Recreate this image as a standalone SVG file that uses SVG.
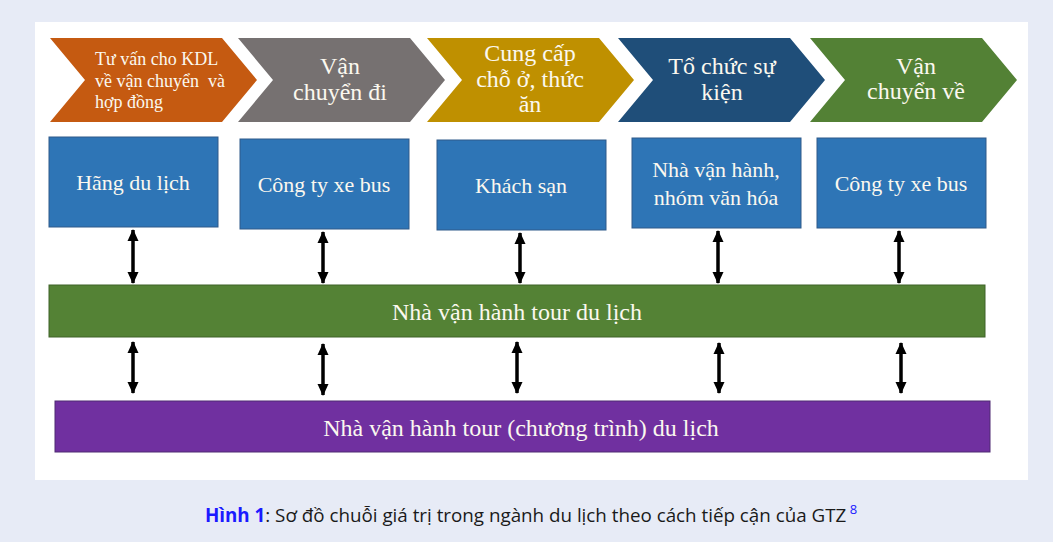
<svg xmlns="http://www.w3.org/2000/svg" width="1053" height="542" viewBox="0 0 1053 542">
<style>
.chev text, .box text, .bar text { font-family: "Liberation Serif", "Times New Roman", serif; fill: #fbf8ef; }
.ct { font-size: 24px; text-anchor: middle; }
.box rect { fill: #2e75b6; stroke: #2f5a8a; stroke-width: 1; }
.bt { font-size: 22px; text-anchor: middle; }
.arrow { stroke: #000; stroke-width: 3.5; fill: none; marker-start: url(#ah); marker-end: url(#ah); }
.cap { font-family: "Open Sans", "Noto Sans", sans-serif; font-size: 18.8px; fill: #1a1a1a; }
</style>
<defs>
<marker id="ah" markerUnits="userSpaceOnUse" markerWidth="12" markerHeight="12" refX="11" refY="6" viewBox="0 0 12 12" orient="auto-start-reverse">
<path d="M0,0.5 L12,6 L0,11.5 z" fill="#000"/>
</marker>
</defs>
<rect x="0" y="0" width="1053" height="542" fill="#e7ebf6"/>
<rect x="35" y="22" width="993" height="458" fill="#ffffff"/>

<g id="step1" class="chev">
<path d="M50,38 L222,38 L257,80 L222,122 L50,122 L85,80 Z" fill="#c55a11"/>
<text x="95" y="65" font-size="18">Tư vấn cho KDL</text>
<text x="95" y="87" font-size="18" xml:space="preserve">về vận chuyển  và</text>
<text x="95" y="108" font-size="18">hợp đồng</text>
</g>
<g id="step2" class="chev">
<path d="M238,38 L410,38 L445,80 L410,122 L238,122 L273,80 Z" fill="#767171"/>
<text class="ct" x="340" y="74">Vận</text>
<text class="ct" x="340" y="100">chuyển đi</text>
</g>
<g id="step3" class="chev">
<path d="M427,38 L599,38 L634,80 L599,122 L427,122 L462,80 Z" fill="#bf9000"/>
<text class="ct" x="530" y="61">Cung cấp</text>
<text class="ct" x="530" y="87">chỗ ở, thức</text>
<text class="ct" x="530" y="112">ăn</text>
</g>
<g id="step4" class="chev">
<path d="M618,38 L790,38 L825,80 L790,122 L618,122 L653,80 Z" fill="#1f4e79"/>
<text class="ct" x="722" y="74">Tổ chức sự</text>
<text class="ct" x="722" y="100">kiện</text>
</g>
<g id="step5" class="chev">
<path d="M810,38 L982,38 L1017,80 L982,122 L810,122 L845,80 Z" fill="#538135"/>
<text class="ct" x="916" y="74">Vận</text>
<text class="ct" x="916" y="99">chuyển về</text>
</g>

<g id="box1" class="box">
<rect x="49" y="137" width="169" height="90"/>
<text class="bt" x="133" y="190">Hãng du lịch</text>
</g>
<g id="box2" class="box">
<rect x="240" y="139" width="169" height="90"/>
<text class="bt" x="324" y="192">Công ty xe bus</text>
</g>
<g id="box3" class="box">
<rect x="437" y="140" width="169" height="90"/>
<text class="bt" x="521" y="193">Khách sạn</text>
</g>
<g id="box4" class="box">
<rect x="632" y="138" width="169" height="90"/>
<text class="bt" x="716" y="177">Nhà vận hành,</text>
<text class="bt" x="716" y="205">nhóm văn hóa</text>
</g>
<g id="box5" class="box">
<rect x="817" y="138" width="169" height="90"/>
<text class="bt" x="901" y="191">Công ty xe bus</text>
</g>

<g id="tour-operator" class="bar">
<rect x="49" y="285" width="936" height="52" fill="#548235" stroke="#3f6328" stroke-width="1"/>
<text class="ct" x="517" y="320">Nhà vận hành tour du lịch</text>
</g>
<g id="program-operator" class="bar">
<rect x="55" y="401" width="935" height="51" fill="#7030a0" stroke="#4e2a72" stroke-width="1"/>
<text class="ct" x="521" y="436">Nhà vận hành tour (chương trình) du lịch</text>
</g>

<g id="connectors">
<line class="arrow" x1="133" y1="230" x2="133" y2="283"/>
<line class="arrow" x1="323" y1="232" x2="323" y2="283"/>
<line class="arrow" x1="520" y1="233" x2="520" y2="283"/>
<line class="arrow" x1="718" y1="231" x2="718" y2="283"/>
<line class="arrow" x1="899" y1="231" x2="899" y2="283"/>
<line class="arrow" x1="133" y1="342" x2="133" y2="393"/>
<line class="arrow" x1="323" y1="344" x2="323" y2="395"/>
<line class="arrow" x1="517" y1="342" x2="517" y2="393"/>
<line class="arrow" x1="719" y1="343" x2="719" y2="393"/>
<line class="arrow" x1="901" y1="343" x2="901" y2="393"/>
</g>

<g id="caption">
<text class="cap" x="531" y="522" text-anchor="middle"><tspan font-weight="bold" fill="#1a1aff">Hình 1</tspan>: Sơ đồ chuỗi giá trị trong ngành du lịch theo cách tiếp cận của GTZ<tspan fill="#1a1aff" font-size="13" dy="-8"> 8</tspan></text>
</g>
</svg>
